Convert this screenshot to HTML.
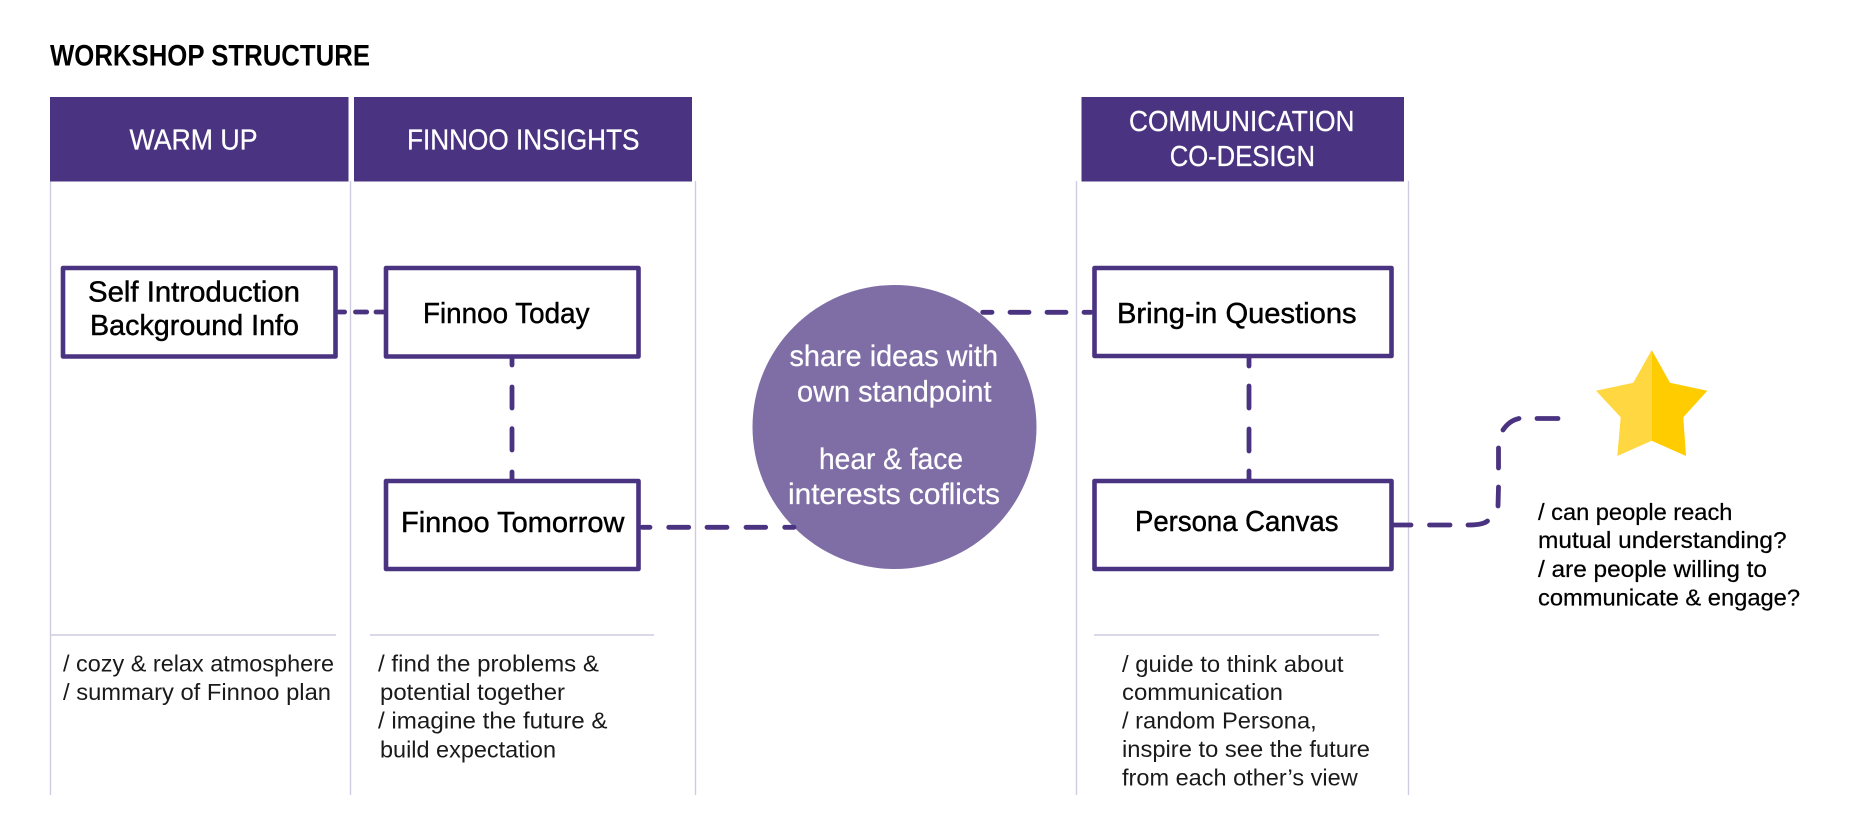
<!DOCTYPE html>
<html><head><meta charset="utf-8"><title>Workshop Structure</title>
<style>
html,body{margin:0;padding:0;background:#fff;width:1854px;height:834px;overflow:hidden}
svg{display:block}
text{font-family:"Liberation Sans",sans-serif}
.h{fill:#fff;font-size:29px;stroke:#fff;stroke-width:.3px}
.b{fill:#000;font-size:29px;stroke:#000;stroke-width:.45px}
.s{fill:#1a1a1a;font-size:23.5px}
.r{fill:#000;font-size:23.5px;stroke:#000;stroke-width:.25px}
.c{fill:#fff;font-size:29.5px;stroke:#fff;stroke-width:.25px}
.d{stroke:#4a3380;stroke-width:4.8;stroke-linecap:round;fill:none}
.l{stroke:#cfcce2;stroke-width:1.4;fill:none}
.bx{fill:#fff;stroke:#4a3380;stroke-width:4.6;stroke-linejoin:round}
</style></head><body>
<svg width="1854" height="834" viewBox="0 0 1854 834" xmlns="http://www.w3.org/2000/svg">
<rect width="1854" height="834" fill="#fff"/>
<path class="l" d="M50.5 181V795M350.5 181V795M695.5 181V795M1076.5 181V795M1408.5 181V795"/>
<path class="l" d="M50 635H336M370 635H654M1094 635H1379"/>
<rect x="50" y="97" width="298.5" height="84.5" fill="#4a3380"/>
<rect x="354" y="97" width="338" height="84.5" fill="#4a3380"/>
<rect x="1081.5" y="97" width="322.5" height="84.5" fill="#4a3380"/>
<text x="50" y="65.7" font-size="29.5" font-weight="700" fill="#000" textLength="320" lengthAdjust="spacingAndGlyphs">WORKSHOP STRUCTURE</text>
<text class="h" x="129.5" y="149.7" textLength="128" lengthAdjust="spacingAndGlyphs">WARM UP</text>
<text class="h" x="407" y="149.7" textLength="232.5" lengthAdjust="spacingAndGlyphs">FINNOO INSIGHTS</text>
<text class="h" x="1129" y="131" textLength="225.5" lengthAdjust="spacingAndGlyphs">COMMUNICATION</text>
<text class="h" x="1169.7" y="166" textLength="145.3" lengthAdjust="spacingAndGlyphs">CO-DESIGN</text>
<circle cx="894.5" cy="427" r="142" fill="#7f6ea6"/>
<path class="d" d="M339 312H344.6M355.5 312H366.7M376 312H386"/>
<path class="d" d="M512 355V365M512 387V408M512 428.7V450M512 472V481"/>
<path class="d" d="M642 527.3H650M668.7 527.3H688.7M707 527.3H727M746 527.3H765.7M784.7 527.3H794"/>
<path class="d" d="M982.7 312.3H992M1010 312.3H1029M1047 312.3H1066M1084 312.3H1091"/>
<path class="d" d="M1249 356V366M1249 386V408M1249 429V451M1249 471V480"/>
<path class="d" d="M1394 525H1411M1429.5 525H1450M1468 525C1477 525 1484 524 1487.5 521M1498 506L1498.5 487M1498.5 468V448M1503 430C1507 424 1512 420 1519 418.5M1537 418.5H1558"/>
<rect class="bx" x="63" y="268" width="272.5" height="88.5"/>
<rect class="bx" x="386" y="268" width="252.5" height="88.5"/>
<rect class="bx" x="386" y="481" width="252.5" height="88"/>
<rect class="bx" x="1094.5" y="268" width="297" height="88"/>
<rect class="bx" x="1094.5" y="481" width="297" height="88"/>
<text class="b" x="88" y="301.7" textLength="212" lengthAdjust="spacingAndGlyphs">Self Introduction</text>
<text class="b" x="90" y="335" textLength="209" lengthAdjust="spacingAndGlyphs">Background Info</text>
<text class="b" x="423" y="323" textLength="166.5" lengthAdjust="spacingAndGlyphs">Finnoo Today</text>
<text class="b" x="401" y="532" textLength="223.4" lengthAdjust="spacingAndGlyphs">Finnoo Tomorrow</text>
<text class="b" x="1117" y="323" textLength="239.6" lengthAdjust="spacingAndGlyphs">Bring-in Questions</text>
<text class="b" x="1135" y="531" textLength="203.5" lengthAdjust="spacingAndGlyphs">Persona Canvas</text>
<text class="c" x="789.5" y="366" textLength="208.5" lengthAdjust="spacingAndGlyphs">share ideas with</text>
<text class="c" x="797" y="401.7" textLength="194.5" lengthAdjust="spacingAndGlyphs">own standpoint</text>
<text class="c" x="819" y="469" textLength="144" lengthAdjust="spacingAndGlyphs">hear &amp; face</text>
<text class="c" x="788" y="504" textLength="212" lengthAdjust="spacingAndGlyphs">interests coflicts</text>
<text class="s" x="63" y="671.7" textLength="271" lengthAdjust="spacingAndGlyphs">/ cozy &amp; relax atmosphere</text>
<text class="s" x="63" y="700" textLength="268" lengthAdjust="spacingAndGlyphs">/ summary of Finnoo plan</text>
<text class="s" x="378" y="671.7" textLength="221" lengthAdjust="spacingAndGlyphs">/ find the problems &amp;</text>
<text class="s" x="380" y="700" textLength="185" lengthAdjust="spacingAndGlyphs">potential together</text>
<text class="s" x="378" y="728.7" textLength="229.5" lengthAdjust="spacingAndGlyphs">/ imagine the future &amp;</text>
<text class="s" x="380" y="757.7" textLength="176" lengthAdjust="spacingAndGlyphs">build expectation</text>
<text class="s" x="1122" y="672" textLength="221.5" lengthAdjust="spacingAndGlyphs">/ guide to think about</text>
<text class="s" x="1122" y="700" textLength="161" lengthAdjust="spacingAndGlyphs">communication</text>
<text class="s" x="1122" y="728.7" textLength="194.7" lengthAdjust="spacingAndGlyphs">/ random Persona,</text>
<text class="s" x="1122" y="757" textLength="248" lengthAdjust="spacingAndGlyphs">inspire to see the future</text>
<text class="s" x="1122" y="785.7" textLength="235.7" lengthAdjust="spacingAndGlyphs">from each other’s view</text>
<text class="r" x="1538" y="520" textLength="194.4" lengthAdjust="spacingAndGlyphs">/ can people reach</text>
<text class="r" x="1538" y="548" textLength="248.6" lengthAdjust="spacingAndGlyphs">mutual understanding?</text>
<text class="r" x="1538" y="577" textLength="229" lengthAdjust="spacingAndGlyphs">/ are people willing to</text>
<text class="r" x="1538" y="605.7" textLength="262" lengthAdjust="spacingAndGlyphs">communicate &amp; engage?</text>
<polygon fill="#ffd740" points="1651.7,350 1633.3,382.7 1596,390.7 1620.7,417.3 1617.3,456 1651.7,440.7"/>
<polygon fill="#ffcc00" points="1651.7,350 1670,382.7 1707.3,390.7 1683.3,417.3 1686,456 1651.7,440.7"/>
</svg>
</body></html>
